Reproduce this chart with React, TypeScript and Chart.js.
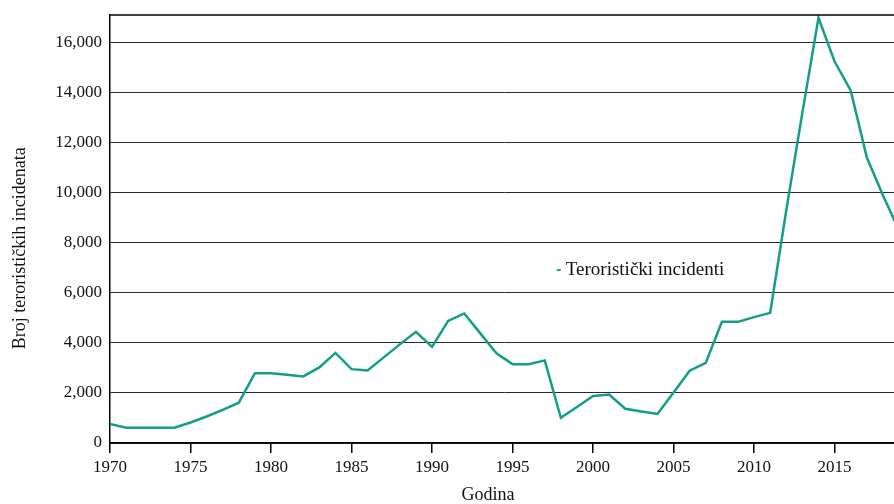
import React, { useEffect, useRef } from "react";
import { Chart, registerables } from "chart.js";

Chart.register(...registerables);

const years = [
  1970, 1971, 1972, 1973, 1974, 1975, 1976, 1977, 1978, 1979,
  1980, 1981, 1982, 1983, 1984, 1985, 1986, 1987, 1988, 1989,
  1990, 1991, 1992, 1993, 1994, 1995, 1996, 1997, 1998, 1999,
  2000, 2001, 2002, 2003, 2004, 2005, 2006, 2007, 2008, 2009,
  2010, 2011, 2012, 2013, 2014, 2015, 2016, 2017, 2018, 2019,
];

const incidents = [
  760, 610, 610, 610, 610, 820, 1060, 1320, 1610, 2790,
  2790, 2730, 2660, 3020, 3600, 2950, 2900, 3420, 3940, 4440,
  3840, 4880, 5175, 4380, 3580, 3150, 3150, 3300, 1010, 1440,
  1875, 1940, 1370, 1260, 1160, 2020, 2890, 3200, 4840, 4840,
  5030, 5200, 9300, 13200, 16990, 15240, 14090, 11410, 9900, 8500,
];

const yTickValues = [0, 2000, 4000, 6000, 8000, 10000, 12000, 14000, 16000];
const xTickStep = 5;

const seriesLabel = "Teroristički incidenti";
const xTitle = "Godina";
const yTitle = "Broj terorističkih incidenata";

const FONT = "'Liberation Serif', 'Times New Roman', serif";
const LINE_COLOR = "#139e88";
const TEXT_COLOR = "#111111";

const insideLegend = {
  id: "insideLegend",
  afterDatasetsDraw(chart: any) {
    const { ctx, chartArea: a } = chart;
    const x = a.left + (a.right - a.left) * 0.565;
    const y = a.top + (a.bottom - a.top) * 0.596;
    ctx.save();
    ctx.strokeStyle = LINE_COLOR;
    ctx.lineWidth = 2;
    ctx.beginPath();
    ctx.moveTo(x + 1, y);
    ctx.lineTo(x + 5, y);
    ctx.stroke();
    ctx.fillStyle = TEXT_COLOR;
    ctx.font = `19px ${FONT}`;
    ctx.textBaseline = "middle";
    ctx.textAlign = "left";
    ctx.fillText(seriesLabel, x + 10, y);
    ctx.restore();
  },
};

const frameAndTitles = {
  id: "frameAndTitles",
  afterDraw(chart: any) {
    const { ctx, chartArea: a } = chart;
    ctx.save();
    ctx.strokeStyle = "#000";
    ctx.lineWidth = 1.5;
    ctx.beginPath();
    ctx.moveTo(a.left, a.top);
    ctx.lineTo(a.right, a.top);
    ctx.stroke();

    ctx.fillStyle = TEXT_COLOR;
    ctx.font = `18px ${FONT}`;
    ctx.textAlign = "center";
    ctx.textBaseline = "alphabetic";
    ctx.fillText(xTitle, a.left + (a.right - a.left) * 0.479, a.bottom + 57);
    ctx.translate(24.5, a.top + (a.bottom - a.top) * 0.545);
    ctx.rotate(-Math.PI / 2);
    ctx.fillText(yTitle, 0, 0);
    ctx.restore();
  },
};

export default function App() {
  const ref = useRef<HTMLCanvasElement | null>(null);

  useEffect(() => {
    if (!ref.current) return;
    const chart = new Chart(ref.current, {
      type: "line",
      data: {
        datasets: [
          {
            label: seriesLabel,
            data: years.map((yr, i) => ({ x: yr, y: incidents[i] })),
            borderColor: LINE_COLOR,
            backgroundColor: LINE_COLOR,
            borderWidth: 2.5,
            pointRadius: 0,
            tension: 0,
            fill: false,
          },
        ],
      },
      options: {
        responsive: false,
        animation: false,
        devicePixelRatio: 1,
        layout: { padding: { top: 15, right: 31, bottom: 0, left: 0 } },
        plugins: {
          legend: { display: false },
          tooltip: { enabled: false },
        },
        scales: {
          x: {
            type: "linear",
            min: years[0],
            max: years[years.length - 1],
            afterBuildTicks: (s: any) => {
              s.ticks = s.ticks.filter((t: any) => t.value % xTickStep === 0);
            },
            afterFit: (s: any) => {
              s.height = 61;
              s.paddingLeft = 0;
              s.paddingRight = 0;
            },
            ticks: {
              stepSize: xTickStep,
              autoSkip: false,
              maxRotation: 0,
              padding: 4,
              color: TEXT_COLOR,
              font: { family: FONT, size: 17 },
              callback: (v: any) => String(v),
            },
            grid: {
              drawOnChartArea: false,
              drawTicks: true,
              tickLength: 10,
              color: "#000",
              lineWidth: 1.5,
            },
            border: { display: true, color: "#000", width: 1.5 },
            title: { display: false },
          },
          y: {
            min: 0,
            max: 17100,
            afterBuildTicks: (s: any) => {
              s.ticks = yTickValues.map((v) => ({ value: v }));
            },
            afterFit: (s: any) => {
              s.width = 110;
              s.paddingTop = 0;
              s.paddingBottom = 0;
            },
            ticks: {
              padding: 8,
              color: TEXT_COLOR,
              font: { family: FONT, size: 17 },
              callback: (v: any) => Number(v).toLocaleString("en-US"),
            },
            grid: { color: "#2a2a2a", lineWidth: 1, drawTicks: false },
            border: { display: true, color: "#000", width: 1.5 },
            title: { display: false },
          },
        },
      },
      plugins: [insideLegend, frameAndTitles],
    });
    return () => chart.destroy();
  }, []);

  return (
    <div
      style={{
        position: "fixed",
        left: 0,
        top: 0,
        width: 894,
        height: 504,
        overflow: "hidden",
        background: "#fff",
      }}
    >
      <canvas ref={ref} width={930} height={504} style={{ width: 930, height: 504, display: "block" }} />
    </div>
  );
}
